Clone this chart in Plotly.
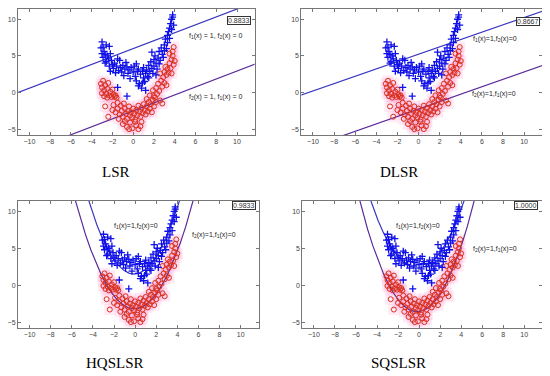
import plotly.graph_objects as go

# ---------------- data ----------------
blue_x = [-3.0, -2.9, -3.1, -2.6, -2.3, -2.8, -2.7, -2.5, -2.9, -2.4, -2.2, -2.6, -2.1, -2.0, -2.3,
          -1.8, -1.9, -1.6, -1.5, -1.4, -1.2, -1.7, -1.0, -1.1, -0.8, -0.9, -0.6, -0.5, -0.4, -0.3,
          -0.2, 0.0, 0.1, 0.2, 0.3, 0.4, 0.5, 0.6, 0.7, 0.8, 0.9, 1.0, 1.0, 1.1, 1.2, 1.3, 1.4, 1.5,
          1.6, 1.7, 1.8, 1.9, 2.0, 2.0, 2.1, 2.2, 2.3, 2.4, 2.5, 2.5, 2.6, 2.7, 2.8, 2.9, 3.0, 3.0,
          3.1, 3.2, 3.3, 3.3, 3.4, 3.5, 3.5, 3.6, 3.7, 3.7, 3.8, 3.9, 3.8, -0.6, 0.5, -1.5, 1.2,
          -2.7, -2.2, -1.3, -0.7, 0.3, 1.5, 2.2, -3.0, 0.9, 1.8]
blue_y = [6.9, 6.2, 6.1, 6.5, 6.3, 5.6, 5.2, 5.0, 4.8, 4.6, 5.3, 4.2, 4.4, 3.8, 3.6,
          4.0, 3.3, 3.6, 4.6, 3.0, 3.4, 2.7, 3.7, 2.8, 3.2, 2.3, 3.5, 2.6, 3.1, 1.9,
          3.4, 2.8, 3.6, 2.2, 1.6, 2.9, 3.2, 1.2, 2.5, 0.6, 2.9, 2.0, 3.4, 1.5, 2.6, 3.1, 2.2, 3.7,
          2.9, 4.2, 3.3, 2.6, 4.5, 3.6, 5.0, 4.0, 3.2, 4.7, 5.6, 3.9, 4.4, 6.1, 5.2, 4.8, 6.5, 5.7,
          7.3, 6.0, 7.8, 6.8, 8.3, 7.4, 8.8, 9.4, 8.6, 10.0, 10.6, 9.2, 10.3, -0.5, 0.9, 0.7, 0.3,
          4.0, 2.9, 4.4, 4.1, 3.9, 2.0, 2.4, 5.3, 1.3, 5.5]

red_x = [-3.1, -2.9, -3.0, -2.8, -2.7, -2.6, -2.5, -2.4, -2.3, -2.2, -2.1, -2.0, -1.9, -1.8, -1.7,
         -2.8, -3.0, -1.6, -2.5,
         -2.7, -2.0, -1.9, -1.7, -1.5, -1.5, -1.3, -1.2, -1.1, -1.0, -0.9, -0.8, -0.7, -0.6, -0.5,
         -0.4, -0.3, -0.2, -0.1, 0.0, 0.1, 0.2, 0.3, 0.4, 0.5, 0.6, 0.7, 0.8, 0.9, 1.0, 1.1, 1.2,
         1.3, 1.4, 1.5, 1.6, 1.7, 1.8, 1.9, 2.0, 2.1, -2.4, -1.4, -0.8,
         -1.0, -0.6, -0.3, -0.1, 0.3, 0.5, 0.7, 0.8, 0.2, -0.4,
         1.9, 2.0, 2.2, 2.3, 2.4, 2.5, 2.6, 2.7, 2.8, 2.9, 3.0, 3.0, 3.1, 3.2, 3.3, 3.4, 3.5, 3.6,
         3.7, 3.7, 3.8, 3.9, 3.8, 3.9, 4.0, 3.5, 2.8, 2.2, 1.6, 3.2, 2.6, 1.3]
red_y = [1.2, 1.6, 0.7, 0.3, 1.0, -0.2, 0.5, 1.3, -0.4, 0.1, -0.6, 0.4, -0.3, -0.6, -0.4,
         -0.5, -0.1, -0.7, -0.7,
         -1.9, -2.4, -1.7, -2.7, -1.4, -2.2, -3.0, -1.8, -2.5, -3.3, -1.5, -2.2, -2.9, -3.6, -2.5,
         -1.9, -3.1, -2.7, -3.4, -2.2, -2.9, -3.7, -2.4, -3.1, -1.8, -2.6, -3.3, -2.1, -2.8, -1.6,
         -2.4, -3.0, -1.9, -2.6, -1.3, -2.2, -1.6, -2.7, -1.0, -1.9, -0.7, -3.3, -3.6, -3.9,
         -4.3, -4.7, -4.1, -4.9, -4.5, -5.0, -4.6, -4.0, -4.0, -5.0,
         0.3, -0.5, 0.6, -0.2, 1.2, 0.2, -1.1, 1.6, 0.8, 2.1, 1.3, 2.8, 3.5, 2.4, 3.2, 2.7, 4.0, 3.3,
         2.6, 4.5, 5.0, 3.8, 5.6, 6.2, 4.3, 5.3, -1.5, -1.3, -0.4, 1.0, 2.6, -0.9]

# decision boundaries
lsr_up_x, lsr_up_y = [-11.2, 12.0], [-0.05, 12.48]
lsr_lo_x, lsr_lo_y = [-7.0, 12.0], [-6.31, 4.03]
dlsr_up_x, dlsr_up_y = [-11.2, 12.0], [-0.40, 11.24]
dlsr_lo_x, dlsr_lo_y = [-8.0, 12.0], [-6.31, 3.83]

hq_in_x = [-4.6, -4.1, -3.6, -3.1, -2.6, -2.1, -1.6, -1.1, -0.6, -0.1, 0.4, 0.9, 1.4, 1.9, 2.4,
           2.9, 3.4, 3.9, 4.4]
hq_in_y = [12.35, 10.08, 8.07, 6.32, 4.85, 3.64, 2.71, 2.04, 1.63, 1.5, 1.63, 2.04, 2.71, 3.64,
           4.85, 6.32, 8.07, 10.08, 12.35]
hq_out_x = [-5.7, -5.2, -4.7, -4.2, -3.7, -3.2, -2.7, -2.2, -1.7, -1.2, -0.7, -0.2, 0.3, 0.8,
            1.3, 1.8, 2.3, 2.8, 3.3, 3.8, 4.3, 4.8, 5.3, 5.8]
hq_out_y = [11.67, 9.15, 6.85, 4.8, 2.98, 1.39, 0.04, -1.08, -1.96, -2.6, -3.02, -3.19, -3.13,
            -2.84, -2.31, -1.55, -0.55, 0.69, 2.15, 3.86, 5.8, 7.97, 10.38, 13.02]

sq_in_x = [-4.9, -4.4, -3.9, -3.4, -2.9, -2.4, -1.9, -1.4, -0.9, -0.4, 0.1, 0.6, 1.1, 1.6, 2.1,
           2.6, 3.1, 3.6, 4.1, 4.6]
sq_in_y = [12.66, 10.59, 8.75, 7.15, 5.77, 4.62, 3.71, 3.02, 2.56, 2.33, 2.33, 2.56, 3.02, 3.71,
           4.62, 5.77, 7.15, 8.75, 10.59, 12.66]
sq_out_x = [-5.9, -5.4, -4.9, -4.4, -3.9, -3.4, -2.9, -2.4, -1.9, -1.4, -0.9, -0.4, 0.1, 0.6,
            1.1, 1.6, 2.1, 2.6, 3.1, 3.6, 4.1, 4.6, 5.1, 5.6]
sq_out_y = [12.86, 10.11, 7.6, 5.35, 3.35, 1.6, 0.11, -1.13, -2.12, -2.86, -3.35, -3.58, -3.56,
            -3.28, -2.76, -1.98, -0.95, 0.33, 1.87, 3.65, 5.69, 7.99, 10.53, 13.33]

titles = ["LSR", "DLSR", "HQSLSR", "SQSLSR"]
scores = ["0.8833", "0.8667", "0.9833", "1.0000"]
x_ticks = [-10, -8, -6, -4, -2, 0, 2, 4, 6, 8, 10]
y_ticks = [-5, 0, 5, 10]

# ---------------- figure ----------------
fig = go.Figure()

panels = [
    ("x", "y", [lsr_up_x, lsr_lo_x], [lsr_up_y, lsr_lo_y]),
    ("x2", "y2", [dlsr_up_x, dlsr_lo_x], [dlsr_up_y, dlsr_lo_y]),
    ("x3", "y3", [hq_in_x, hq_out_x], [hq_in_y, hq_out_y]),
    ("x4", "y4", [sq_in_x, sq_out_x], [sq_in_y, sq_out_y]),
]
line_cols = ["#3a36c0", "#5a2a9a"]

for xa, ya, lxs, lys in panels:
    fig.add_trace(go.Scatter(x=red_x, y=red_y, xaxis=xa, yaxis=ya, mode="markers",
                             marker=dict(symbol="square", size=11, color="rgba(255,160,210,0.22)",
                                         line=dict(width=0)),
                             hoverinfo="skip", showlegend=False))
    for i in range(2):
        fig.add_trace(go.Scatter(x=lxs[i], y=lys[i], xaxis=xa, yaxis=ya, mode="lines",
                                 line=dict(color=line_cols[i], width=1.2),
                                 showlegend=False))
    fig.add_trace(go.Scatter(x=red_x, y=red_y, xaxis=xa, yaxis=ya, mode="markers",
                             marker=dict(symbol="circle-open", size=5, color="#d8301c",
                                         line=dict(width=1.0)),
                             showlegend=False))
    fig.add_trace(go.Scatter(x=blue_x, y=blue_y, xaxis=xa, yaxis=ya, mode="markers",
                             marker=dict(symbol="cross-thin-open", size=5, color="#1010e8",
                                         line=dict(width=1.3, color="#1010e8")),
                             showlegend=False))

# figure is 542x368, placed with the page's 8px body margin
W, H = 542, 368
xdoms = [[7 / W, 245 / W], [292 / W, 534 / W], [7 / W, 249 / W], [293 / W, 534 / W]]
ydoms = [[1 - 127 / H, 1 - 1 / H], [1 - 127 / H, 1 - 1 / H],
         [1 - 320 / H, 1 - 193 / H], [1 - 320 / H, 1 - 193 / H]]

axis_common = dict(showgrid=False, zeroline=False, showline=True, linecolor="#777777",
                   linewidth=1, mirror="ticks", ticks="inside", ticklen=3,
                   tickcolor="#777777", tickfont=dict(family="Liberation Sans", size=7, color="#444444"))
layout = dict(width=W, height=H, margin=dict(l=0, r=0, t=0, b=0),
              plot_bgcolor="white", paper_bgcolor="white")
for i in range(4):
    sx = "" if i == 0 else str(i + 1)
    layout["xaxis" + sx] = dict(domain=xdoms[i], anchor="y" + sx, range=[-11.1, 11.7],
                                tickvals=x_ticks, **axis_common)
    layout["yaxis" + sx] = dict(domain=ydoms[i], anchor="x" + sx, range=[-5.8, 11.4],
                                tickvals=y_ticks, **axis_common)
fig.update_layout(**layout)


def pp(px, py):
    """screen pixel -> paper coords (accounting for 8px page margin)"""
    return (px - 8) / W, 1 - (py - 8) / H


# titles
title_px = [(114, 172), (398, 172), (113, 363), (398, 363)]
for t, p in zip(titles, title_px):
    x, y = pp(*p)
    fig.add_annotation(text=t, x=x, y=y, xref="paper", yref="paper", showarrow=False,
                       xanchor="center", yanchor="middle",
                       font=dict(family="Liberation Serif", size=15, color="black"))

# score boxes
box_px = [(237.5, 20.5), (527.5, 21.5), (242, 205), (526, 205)]
for s, p in zip(scores, box_px):
    x, y = pp(*p)
    fig.add_annotation(text=s, x=x, y=y, xref="paper", yref="paper", xanchor="center",
                       yanchor="middle", showarrow=False, bordercolor="#333333", borderwidth=1,
                       borderpad=0, bgcolor="white",
                       font=dict(family="Liberation Sans", size=7, color="#333333"))

# boundary labels
lab1 = ["f<sub>1</sub>(x) = 1, f<sub>2</sub>(x) = 0", "f<sub>1</sub>(x)=1,f<sub>2</sub>(x)=0",
        "f<sub>1</sub>(x)=1,f<sub>2</sub>(x)=0", "f<sub>1</sub>(x)=1,f<sub>2</sub>(x)=0"]
lab2 = ["f<sub>2</sub>(x) = 1, f<sub>1</sub>(x) = 0", "f<sub>2</sub>(x)=1,f<sub>1</sub>(x)=0",
        "f<sub>2</sub>(x)=1,f<sub>1</sub>(x)=0", "f<sub>2</sub>(x)=1,f<sub>1</sub>(x)=0"]
lab1_px = [(213.5, 36), (494.5, 39), (133.5, 226), (417, 226)]
lab2_px = [(213.5, 97), (493.5, 94), (212.5, 235), (495, 249)]
for texts, poss in ((lab1, lab1_px), (lab2, lab2_px)):
    for t, p in zip(texts, poss):
        x, y = pp(*p)
        fig.add_annotation(text=t, x=x, y=y, xref="paper", yref="paper", showarrow=False,
                           xanchor="center", yanchor="middle",
                           font=dict(family="Liberation Sans", size=7, color="#222222"))

fig.write_html("out.html")
